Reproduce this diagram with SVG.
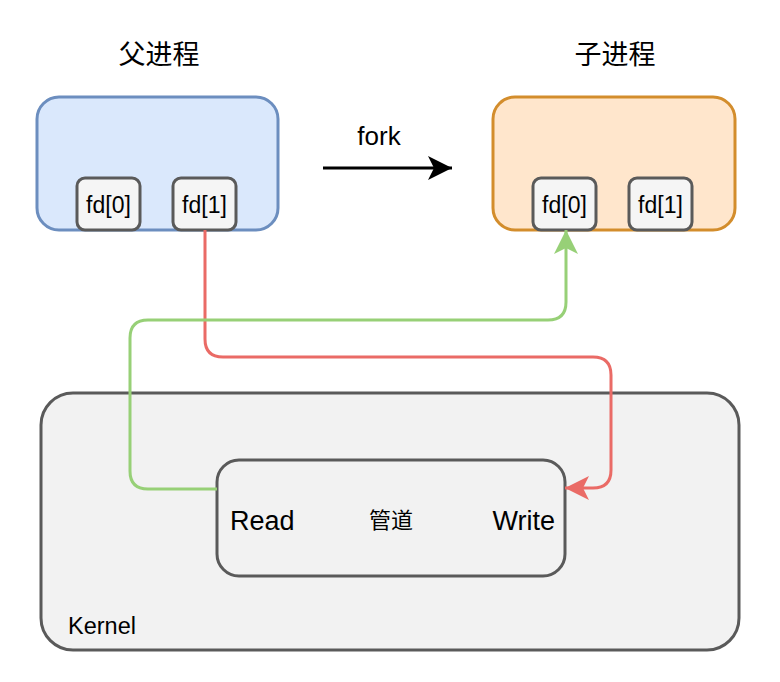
<svg xmlns="http://www.w3.org/2000/svg" width="780" height="682" viewBox="0 0 780 682">
<defs>
<style>
.t{font-family:"Liberation Sans",Arial,"Noto Sans CJK SC",sans-serif;fill:#000}
.cjk{font-family:"Noto Sans CJK SC","Liberation Sans",sans-serif}
.fd{fill:#f5f5f5;stroke:#5a5a5a;stroke-width:3}
.ln{fill:none;stroke-width:3}
</style>
<marker id="ag" viewBox="0 0 24 24" refX="24" refY="12" markerWidth="24" markerHeight="24" markerUnits="userSpaceOnUse" orient="auto"><path d="M0,0 L24,12 L0,24 L6,12 Z" fill="#97D077"/></marker>
<marker id="ar" viewBox="0 0 24 24" refX="24" refY="12" markerWidth="24" markerHeight="24" markerUnits="userSpaceOnUse" orient="auto"><path d="M0,0 L24,12 L0,24 L6,12 Z" fill="#EA6B66"/></marker>
<marker id="ak" viewBox="0 0 24 24" refX="24" refY="12" markerWidth="24" markerHeight="24" markerUnits="userSpaceOnUse" orient="auto"><path d="M0,0 L24,12 L0,24 L6,12 Z" fill="#000"/></marker>
</defs>
<rect width="780" height="682" fill="#fff"/>
<g id="kernel">
<rect x="41" y="393" width="698" height="257" rx="32" fill="#f2f2f2" stroke="#5a5a5a" stroke-width="3"/>
<text class="t" x="68" y="634" font-size="23.5" fill="#222">Kernel</text>
</g>
<g id="parent">
<text class="t cjk" x="159" y="64" font-size="27" text-anchor="middle">父进程</text>
<rect x="37" y="97" width="241" height="133" rx="22" fill="#dae8fc" stroke="#6c8ebf" stroke-width="3"/>
</g>
<g id="parent-fd0"><rect class="fd" x="77" y="178" width="63" height="52" rx="8"/><text class="t" x="108.5" y="213" font-size="23" text-anchor="middle" fill="#111">fd[0]</text></g>
<g id="parent-fd1"><rect class="fd" x="173" y="178" width="63" height="52" rx="8"/><text class="t" x="204.5" y="213" font-size="23" text-anchor="middle" fill="#111">fd[1]</text></g>
<g id="child">
<text class="t cjk" x="615" y="64" font-size="27" text-anchor="middle">子进程</text>
<rect x="493" y="97" width="242" height="133" rx="22" fill="#ffe6cc" stroke="#d38d2c" stroke-width="3"/>
</g>
<g id="child-fd0"><rect class="fd" x="533" y="178" width="63" height="52" rx="8"/><text class="t" x="564.5" y="213" font-size="23" text-anchor="middle" fill="#111">fd[0]</text></g>
<g id="child-fd1"><rect class="fd" x="629" y="178" width="63" height="52" rx="8"/><text class="t" x="660.5" y="213" font-size="23" text-anchor="middle" fill="#111">fd[1]</text></g>
<g id="pipe">
<rect x="217" y="460" width="348" height="116" rx="22" fill="#f2f2f2" stroke="#5a5a5a" stroke-width="3"/>
<text class="t" x="230" y="530" font-size="27" >Read</text>
<text class="t cjk" x="391" y="528" font-size="22" text-anchor="middle" fill="#222">管道</text>
<text class="t" x="555" y="530" font-size="27" text-anchor="end">Write</text>
</g>
<g id="connectors">
<path class="ln" d="M323,168 H452" stroke="#000" marker-end="url(#ak)"/>
<text class="t" x="379" y="145" font-size="26" text-anchor="middle">fork</text>
<path class="ln" d="M205,230 V339 Q205,357 223,357 H593 Q611,357 611,375 V470 Q611,488 593,488 H565" stroke="#EA6B66" marker-end="url(#ar)"/>
<path class="ln" d="M217,489 H148 Q130,489 130,471 V338 Q130,320 148,320 H548 Q566,320 566,302 V230" stroke="#97D077" marker-end="url(#ag)"/>
</g>
</svg>
